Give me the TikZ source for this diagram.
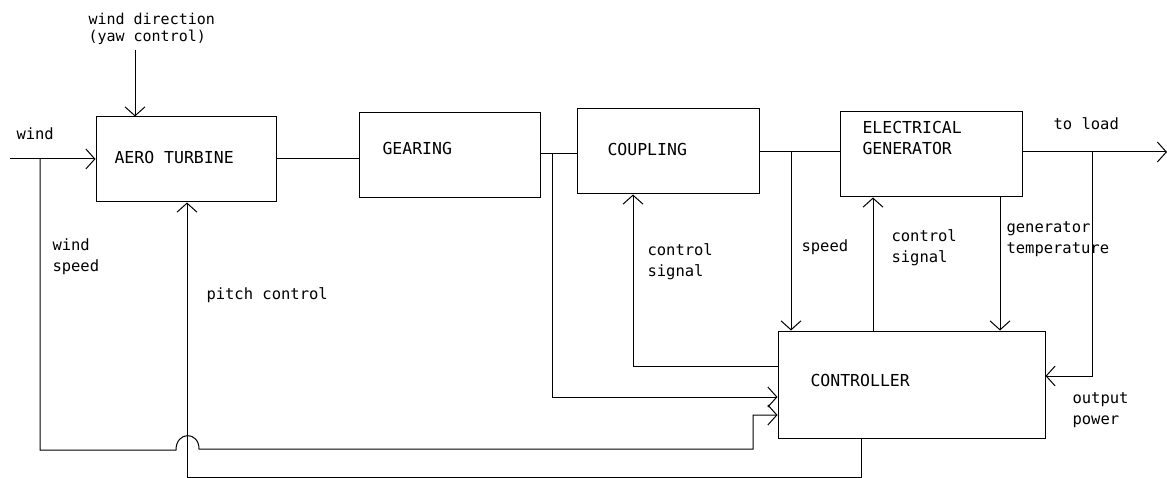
\documentclass[tikz,border=0pt]{standalone}
\usepackage{fontspec}
\setmonofont{DejaVu Sans Mono}
\usetikzlibrary{arrows.meta}
\begin{document}
\begin{tikzpicture}[x=1pt,y=-1pt,
  line width=1pt,
  box/.style={draw, rectangle, inner sep=0pt, minimum width=#1},
  box/.default=181pt,
  lbl/.style={anchor=base west, inner sep=0pt, align=left, font=\fontsize{15.5}{21}\ttfamily},
  caps/.style={lbl, font=\fontsize{16.5}{21}\ttfamily},
  lbltight/.style={lbl, font=\fontsize{15}{17}\ttfamily},
  arr/.style={-{Straight Barb[length=9pt,width=20pt,line width=1pt]}}
]
\useasboundingbox (0,0) rectangle (1167,478);

% boxes
\node[box=180pt, minimum height=85pt] (aero) at (186,159.5) {};
\node[box=181pt, minimum height=85pt] (gear) at (449.5,155.5) {};
\node[box=182pt, minimum height=85pt] (coup) at (668,151.5) {};
\node[box=182pt, minimum height=85pt] (gen)  at (931,154.5) {};
\node[box=267pt, minimum height=107pt] (ctrl) at (911.5,384.5) {};

% labels (base = baseline of the last line)
\node[caps] (tAero) at (114,164) {AERO TURBINE};
\node[caps] (tGear) at (382,155) {GEARING};
\node[caps] (tCoup) at (607,156) {COUPLING};
\node[caps] (tGen)  at (862,155) {ELECTRICAL\\GENERATOR};
\node[caps] (tCtrl) at (810,386) {CONTROLLER};
\node[lbl] (tWind) at (16,140) {wind};
\node[lbltight] (tDir) at (88,42) {wind direction\\(yaw control)};
\node[lbl] (tWS) at (52,272) {wind\\speed};
\node[lbl] (tPitch) at (206,299) {pitch control};
\node[lbl] (tCS1) at (647,277) {control\\signal};
\node[lbl] (tSpeed) at (801,252) {speed};
\node[lbl] (tCS2) at (891,263) {control\\signal};
\node[lbl] (tTemp) at (1006,254) {generator\\temperature};
\node[lbl] (tLoad) at (1053,130) {to load};
\node[lbl] (tOut) at (1072,424) {output\\power};

% coordinates
\coordinate (windin) at (10,159);
\coordinate (ws) at (40,159);
\coordinate (ws1) at (40,450);
\coordinate (humpL) at (176,450);
\coordinate (humpR) at (199,449);
\coordinate (ws2) at (753,449);
\coordinate (ws3) at (753,415);
\coordinate (wd) at (135,50);
\coordinate (pc1) at (861,477);
\coordinate (pc2) at (187,477);
\coordinate (gc) at (552,154);
\coordinate (gc2) at (552,397);
\coordinate (cs1) at (633,366);
\coordinate (sp) at (791,152);
\coordinate (cs2) at (873,331);
\coordinate (gt) at (1000,197);
\coordinate (load) at (1167,152);
\coordinate (op) at (1092,152);
\coordinate (op2) at (1092,376);

% wind
\draw[arr] (windin) -- (windin -| aero.west);
% wind speed
\draw[arr] (ws) -- (ws1) -- (humpL) .. controls (176,431) and (199,431) .. (humpR) -- (ws2) -- (ws3) -- (ws3 -| ctrl.west);
% wind direction
\draw[arr] (wd) -- (wd |- aero.north);
% pitch control
\draw[arr] (pc1 |- ctrl.south) -- (pc1) -- (pc2) -- (pc2 |- aero.south);
% shaft
\draw (aero.east |- windin) -- (windin -| gear.west);
\draw (gear.east |- gc) -- (gc -| coup.west);
\draw[arr] (gc) -- (gc2) -- (gc2 -| ctrl.west);
\draw[arr] (cs1 -| ctrl.west) -- (cs1) -- (cs1 |- coup.south);
\draw (coup.east |- sp) -- (sp -| gen.west);
\draw[arr] (sp) -- (sp |- ctrl.north);
\draw[arr] (cs2) -- (cs2 |- gen.south);
\draw[arr] (gt) -- (gt |- ctrl.north);
\draw[arr] (gen.east |- load) -- (load);
\draw[arr] (op) -- (op2) -- (op2 -| ctrl.east);
\end{tikzpicture}
\end{document}
